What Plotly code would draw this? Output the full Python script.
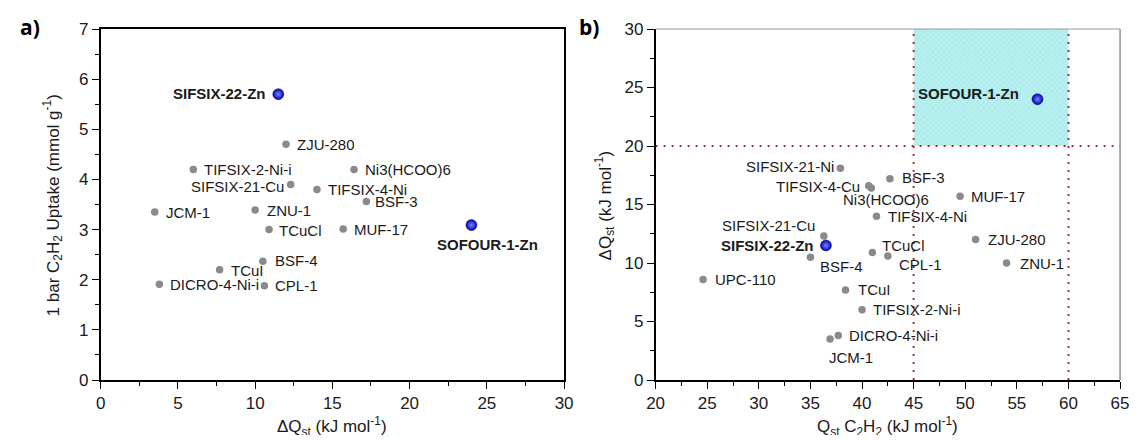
import plotly.graph_objects as go

# ---------------- data ----------------
# Panel a: dQst (kJ/mol) vs 1 bar C2H2 uptake (mmol/g)
a_names = ["ZJU-280", "TIFSIX-2-Ni-i", "Ni3(HCOO)6", "SIFSIX-21-Cu", "TIFSIX-4-Ni",
           "BSF-3", "JCM-1", "ZNU-1", "TCuCl", "MUF-17", "BSF-4", "TCuI",
           "DICRO-4-Ni-i", "CPL-1"]
a_dq = [12.0, 6.0, 16.4, 12.3, 14.0, 17.2, 3.5, 10.0, 10.9, 15.7, 10.5, 7.7, 3.8, 10.6]
a_uptake = [4.70, 4.20, 4.20, 3.90, 3.80, 3.56, 3.35, 3.39, 3.00, 3.01, 2.37, 2.20, 1.91, 1.88]
a_hl_names = ["SIFSIX-22-Zn", "SOFOUR-1-Zn"]
a_hl_dq = [11.5, 24.0]
a_hl_uptake = [5.70, 3.09]

# Panel b: Qst C2H2 (kJ/mol) vs dQst (kJ/mol)
b_names = ["SIFSIX-21-Ni", "BSF-3", "TIFSIX-4-Cu", "Ni3(HCOO)6", "MUF-17", "TIFSIX-4-Ni",
           "SIFSIX-21-Cu", "ZJU-280", "TCuCl", "CPL-1", "BSF-4", "ZNU-1", "UPC-110",
           "TCuI", "TIFSIX-2-Ni-i", "DICRO-4-Ni-i", "JCM-1"]
b_qst = [37.9, 42.7, 40.65, 40.9, 49.5, 41.4, 36.3, 51.0, 41.0, 42.5, 35.0, 54.0, 24.6,
         38.4, 40.0, 37.7, 36.9]
b_dq = [18.1, 17.2, 16.6, 16.4, 15.7, 14.0, 12.3, 12.0, 10.9, 10.6, 10.5, 10.0, 8.6,
        7.7, 6.0, 3.8, 3.5]
b_hl_names = ["SOFOUR-1-Zn", "SIFSIX-22-Zn"]
b_hl_qst = [57.0, 36.5]
b_hl_dq = [24.0, 11.5]

# threshold region in panel b
QST_LOW, QST_HIGH = 45, 60
DQ_LOW, DQ_HIGH = 20, 30

# ---------------- label styles (anchor, xshift, yshift) ----------------
a_lab = {
    "ZJU-280": ("left", 9, 0), "TIFSIX-2-Ni-i": ("left", 9, 0), "Ni3(HCOO)6": ("left", 9, 0),
    "SIFSIX-21-Cu": ("right", -5, -2), "TIFSIX-4-Ni": ("left", 9, 0), "BSF-3": ("left", 7, 0),
    "JCM-1": ("left", 9, 0), "ZNU-1": ("left", 10, 0), "TCuCl": ("left", 8, -1),
    "MUF-17": ("left", 9, 0), "BSF-4": ("left", 10, 1), "TCuI": ("left", 9, -1),
    "DICRO-4-Ni-i": ("left", 9, 0), "CPL-1": ("left", 9, 0),
    "SIFSIX-22-Zn": ("right", -10, 1), "SOFOUR-1-Zn": ("center", 16, -19),
}
b_lab = {
    "SIFSIX-21-Ni": ("right", -4, 2), "BSF-3": ("left", 10, 1), "TIFSIX-4-Cu": ("right", -7, -1),
    "Ni3(HCOO)6": ("center", 15, -11), "MUF-17": ("left", 9, 0), "TIFSIX-4-Ni": ("left", 10, 0),
    "SIFSIX-21-Cu": ("right", -7, 11), "ZJU-280": ("left", 10, 0), "TCuCl": ("left", 8, 7),
    "CPL-1": ("left", 9, -9), "BSF-4": ("left", 8, -9), "ZNU-1": ("left", 11, 0),
    "UPC-110": ("left", 10, 0), "TCuI": ("left", 10, 0), "TIFSIX-2-Ni-i": ("left", 9, 0),
    "DICRO-4-Ni-i": ("left", 9, 0), "JCM-1": ("center", 21, -18),
    "SOFOUR-1-Zn": ("right", -16, 6), "SIFSIX-22-Zn": ("right", -10, 0),
}

FONT = "Arial"
GRAY = "#8a8a8a"
TXT = "#1a1a1a"

# page body has an 8px margin; the figure is sized to fit the window without scrollbars
OFF = 8
W, H = 1141 - 2 * OFF, 443 - 2 * OFF
PLOT_TOP, PLOT_BOT = 29, 380  # in screenshot pixels


def fx(px):
    return (px - OFF) / W


def fy(py):
    return (PLOT_BOT - py) / (PLOT_BOT - PLOT_TOP)


fig = go.Figure()

# cyan region (panel b)
fig.add_trace(go.Scatter(
    x=[QST_LOW, QST_HIGH, QST_HIGH, QST_LOW, QST_LOW],
    y=[DQ_LOW, DQ_LOW, DQ_HIGH, DQ_HIGH, DQ_LOW],
    xaxis="x2", yaxis="y2", mode="lines", line=dict(width=0),
    fill="toself", fillcolor="#b0eded",
    fillpattern=dict(shape="x", size=4, solidity=0.25, fgcolor="#86dcdc", bgcolor="#b8f0f0"),
    hoverinfo="skip", showlegend=False))

# red dotted threshold lines
RED = "#c0282d"
for xs, ys in [([QST_LOW, QST_LOW], [0, DQ_HIGH]),
               ([QST_HIGH, QST_HIGH], [0, DQ_HIGH]),
               ([20, 65], [DQ_LOW, DQ_LOW])]:
    fig.add_trace(go.Scatter(x=xs, y=ys, xaxis="x2", yaxis="y2", mode="lines",
                             line=dict(color=RED, width=2, dash="2px,6px"),
                             showlegend=False, hoverinfo="skip"))

gray_marker = dict(color=GRAY, size=7.5)
blue_marker = dict(color="#0000b8", size=11,
                   gradient=dict(type="radial", color="#7d86ff"),
                   line=dict(color="#000070", width=0.5))

fig.add_trace(go.Scatter(x=a_dq, y=a_uptake, mode="markers", marker=gray_marker,
                         text=a_names, showlegend=False, xaxis="x", yaxis="y"))
fig.add_trace(go.Scatter(x=a_hl_dq, y=a_hl_uptake, mode="markers", marker=blue_marker,
                         text=a_hl_names, showlegend=False, xaxis="x", yaxis="y"))
fig.add_trace(go.Scatter(x=b_qst, y=b_dq, mode="markers", marker=gray_marker,
                         text=b_names, showlegend=False, xaxis="x2", yaxis="y2"))
fig.add_trace(go.Scatter(x=b_hl_qst, y=b_hl_dq, mode="markers", marker=blue_marker,
                         text=b_hl_names, showlegend=False, xaxis="x2", yaxis="y2"))

annotations = []


def add_labels(names, xs, ys, style, xref, yref, bold=False):
    for n, x, y in zip(names, xs, ys):
        anc, dx, dy = style[n]
        annotations.append(dict(
            x=x, y=y, xref=xref, yref=yref, text=f"<b>{n}</b>" if bold else n,
            showarrow=False, xanchor=anc, yanchor="middle", xshift=dx, yshift=dy,
            font=dict(family=FONT, size=15, color=TXT)))


add_labels(a_names, a_dq, a_uptake, a_lab, "x", "y")
add_labels(a_hl_names, a_hl_dq, a_hl_uptake, a_lab, "x", "y", bold=True)
add_labels(b_names, b_qst, b_dq, b_lab, "x2", "y2")
add_labels(b_hl_names, b_hl_qst, b_hl_dq, b_lab, "x2", "y2", bold=True)

# panel letters
LF = dict(family="Open Sans", size=21, color="#000")
annotations.append(dict(x=fx(9), y=fy(27), xref="paper", yref="paper", text="<b>a)</b>",
                        showarrow=False, xanchor="left", yanchor="middle", font=LF))
annotations.append(dict(x=fx(577), y=fy(27), xref="paper", yref="paper", text="<b>b)</b>",
                        showarrow=False, xanchor="left", yanchor="middle", font=LF))

# axis titles
TF = dict(family=FONT, size=17, color=TXT)
annotations.append(dict(x=fx(328), y=fy(426), xref="paper", yref="paper",
                        text="ΔQ<sub>st</sub> (kJ mol<sup>-1</sup>)", showarrow=False,
                        xanchor="center", yanchor="middle", font=TF))
annotations.append(dict(x=fx(45), y=fy(205), xref="paper", yref="paper",
                        text="1 bar C<sub>2</sub>H<sub>2</sub> Uptake (mmol g<sup>-1</sup>)",
                        showarrow=False, textangle=-90, xanchor="center", yanchor="middle", font=TF))
annotations.append(dict(x=fx(893), y=fy(426), xref="paper", yref="paper",
                        text="Q<sub>st</sub> C<sub>2</sub>H<sub>2</sub> (kJ mol<sup>-1</sup>)",
                        showarrow=False, xanchor="center", yanchor="middle", font=TF))
annotations.append(dict(x=fx(606), y=fy(205), xref="paper", yref="paper",
                        text="ΔQ<sub>st</sub> (kJ mol<sup>-1</sup>)",
                        showarrow=False, textangle=-90, xanchor="center", yanchor="middle", font=TF))

TICKF = dict(family=FONT, size=17, color=TXT)


def ax(domain, rng, dtick, minor, mirror, anchor):
    return dict(domain=domain, range=rng, dtick=dtick, tick0=rng[0], ticks="outside", ticklen=7,
                tickwidth=1.3, tickcolor="#000", showline=True, linecolor="#000", linewidth=1.5,
                mirror=mirror, showgrid=False, zeroline=False, tickfont=TICKF, anchor=anchor,
                minor=dict(dtick=minor, tick0=rng[0], ticks="outside", ticklen=4, tickwidth=1.2,
                           tickcolor="#000", showgrid=False))


fig.update_layout(
    width=W, height=H, plot_bgcolor="white", paper_bgcolor="white",
    margin=dict(l=0, r=0, t=PLOT_TOP - OFF, b=H - (PLOT_BOT - OFF)),
    xaxis=ax([fx(93), fx(564)], [0, 30], 5, 2.5, True, "y"),
    yaxis=ax([0, 1], [0, 7], 1, 0.5, True, "x"),
    xaxis2=ax([fx(657), fx(1129)], [20, 65], 5, 2.5, False, "y2"),
    yaxis2=ax([0, 1], [0, 30], 5, 2.5, False, "x2"),
    annotations=annotations,
    shapes=[
        dict(type="line", xref="x2 domain", yref="y2 domain", x0=0, x1=1, y0=1, y1=1,
             line=dict(color="#9a9a9a", width=1.2)),
        dict(type="line", xref="x2 domain", yref="y2 domain", x0=1, x1=1, y0=0, y1=1,
             line=dict(color="#777777", width=1.2)),
    ],
    font=dict(family=FONT),
)

fig.write_html("out.html")
